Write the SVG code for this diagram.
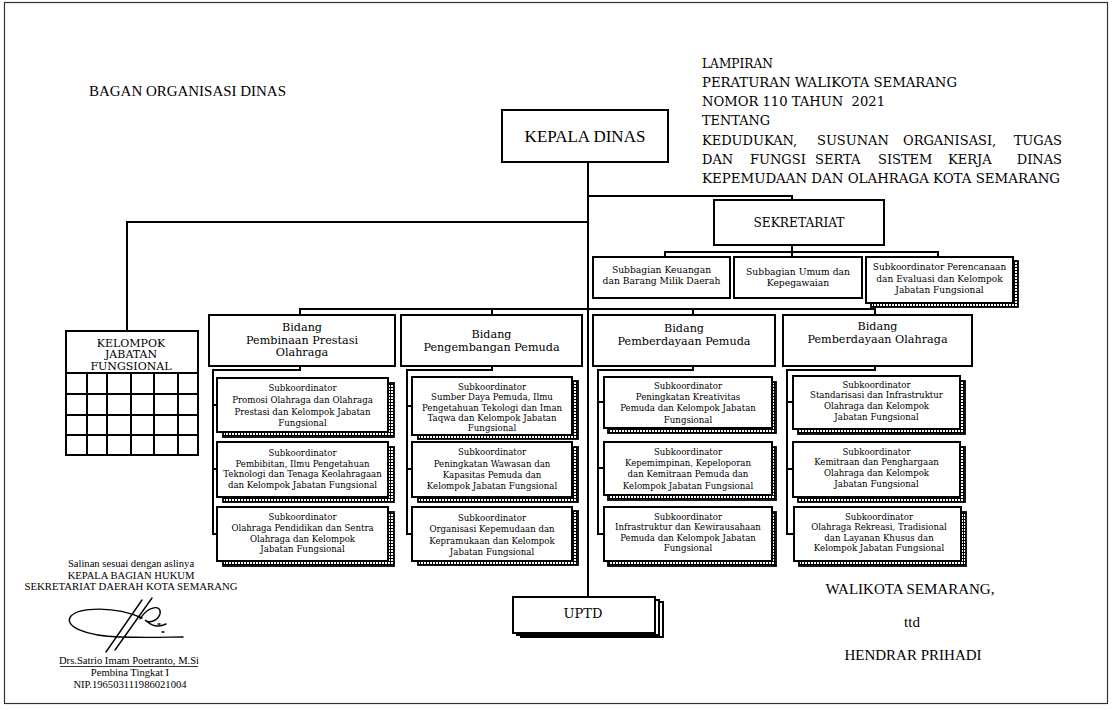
<svg xmlns="http://www.w3.org/2000/svg" width="1112" height="710" viewBox="0 0 1112 710">
<defs>
<pattern id="ladder" patternUnits="userSpaceOnUse" width="3" height="3">
<rect width="3" height="3" fill="#fff"/>
<path d="M0 0.5H3M0.5 0V3" stroke="#000" stroke-width="1"/>
</pattern>
<style>
.box{fill:#fff;stroke:#000;stroke-width:2}
.shd{fill:url(#ladder);stroke:#000;stroke-width:1.8}
.ln{fill:none;stroke:#000;stroke-width:2}
.t{font-family:"DejaVu Serif",serif;fill:#000;text-anchor:middle}
.tm{font-family:"Liberation Serif",serif;fill:#000;text-anchor:middle}
.sub{font-size:8.6px}
.bid{font-size:11.2px}
.sb{font-size:9.2px}
.hd{font-family:"DejaVu Serif",serif;font-size:13px;fill:#000}
.bl{font-size:10.6px}
.br{font-size:15px}
</style>
</defs>
<rect x="4.5" y="2.5" width="1103" height="701" fill="#fff" stroke="#333" stroke-width="1.2"/>

<g id="title">
<text x="89" y="96" font-family="Liberation Serif, serif" font-size="14" textLength="197" lengthAdjust="spacingAndGlyphs">BAGAN ORGANISASI DINAS</text>
</g>
<g id="lampiran">
<text class="hd" x="702" y="68" textLength="71" lengthAdjust="spacingAndGlyphs">LAMPIRAN</text>
<text class="hd" x="702" y="87" textLength="255" lengthAdjust="spacingAndGlyphs">PERATURAN WALIKOTA SEMARANG</text>
<text class="hd" x="702" y="106" textLength="183" lengthAdjust="spacingAndGlyphs" style="white-space:pre">NOMOR 110 TAHUN  2021</text>
<text class="hd" x="702" y="125" textLength="68" lengthAdjust="spacingAndGlyphs">TENTANG</text>
<text class="hd" y="145"><tspan x="702">KEDUDUKAN,</tspan><tspan x="817">SUSUNAN</tspan><tspan x="903">ORGANISASI,</tspan></text>
<text class="hd" x="1062" y="145" text-anchor="end">TUGAS</text>
<text class="hd" y="164"><tspan x="702">DAN</tspan><tspan x="750">FUNGSI</tspan><tspan x="815">SERTA</tspan><tspan x="878">SISTEM</tspan><tspan x="948">KERJA</tspan></text>
<text class="hd" x="1062" y="164" text-anchor="end">DINAS</text>
<text class="hd" x="702" y="183" textLength="358" lengthAdjust="spacingAndGlyphs">KEPEMUDAAN DAN OLAHRAGA KOTA SEMARANG</text>
</g>

<g id="connectors">
<path class="ln" d="M588 162V597"/>
<path class="ln" d="M588 196H792V200"/>
<path class="ln" d="M588 222H127V331"/>
<path class="ln" d="M792 245V257M665 257V252H938V257"/>
<path class="ln" d="M300 315V309H875V315M492 309V315M693 309V315"/>
<path class="ln" d="M300 366V370H213V534H217M213 405H217M213 469H217"/>
<path class="ln" d="M492 366V370H407V534H412M407 406H412M407 469H412"/>
<path class="ln" d="M693 366V370H598V534H604M598 402H604M598 468H604"/>
<path class="ln" d="M875 366V370H787V534H793M787 402H793M787 469H793"/>
</g>

<g id="kepala-dinas">
<rect class="box" x="502" y="110" width="166" height="52"/>
<text class="tm" x="585" y="142" font-size="17">KEPALA DINAS</text>
</g>

<g id="sekretariat">
<rect class="box" x="714" y="200" width="170" height="45"/>
<text class="t" x="799" y="227" font-size="12.2">SEKRETARIAT</text>
</g>

<g id="subbagian-keuangan">
<rect class="box" x="593" y="257" width="137" height="41"/>
<text class="t sb" x="661.5"><tspan x="661.5" y="273">Subbagian Keuangan</tspan><tspan x="661.5" y="284">dan Barang Milik Daerah</tspan></text>
</g>
<g id="subbagian-umum">
<rect class="box" x="734" y="257" width="128" height="41"/>
<text class="t sb"><tspan x="798" y="275">Subbagian Umum dan</tspan><tspan x="798" y="286">Kepegawaian</tspan></text>
</g>
<g id="sub-perencanaan">
<rect class="shd" x="871" y="261" width="147" height="46"/>
<rect class="box" x="866" y="257" width="147" height="46"/>
<text class="t" font-size="9"><tspan x="939.5" y="270">Subkoordinator Perencanaan</tspan><tspan x="939.5" y="281.5">dan Evaluasi dan Kelompok</tspan><tspan x="939.5" y="293">Jabatan Fungsional</tspan></text>
</g>

<g id="kelompok-jf">
<rect class="box" x="66" y="331" width="132" height="124"/>
<path class="ln" d="M66 373H198M66 394H198M66 415H198M66 435H198M87 373V455M107 373V455M131 373V455M154 373V455M178 373V455"/>
<text class="t" font-size="11"><tspan x="131" y="347">KELOMPOK</tspan><tspan x="131" y="358">JABATAN</tspan><tspan x="131" y="370">FUNGSIONAL</tspan></text>
</g>

<g id="bidang-prestasi">
<rect class="box" x="209" y="315" width="186" height="51"/>
<text class="t bid"><tspan x="302" y="331">Bidang</tspan><tspan x="302" y="343.5">Pembinaan Prestasi</tspan><tspan x="302" y="356">Olahraga</tspan></text>
</g>
<g id="bidang-pengembangan">
<rect class="box" x="401" y="315" width="181" height="51"/>
<text class="t bid"><tspan x="491.5" y="338">Bidang</tspan><tspan x="491.5" y="351">Pengembangan Pemuda</tspan></text>
</g>
<g id="bidang-pemberdayaan-pemuda">
<rect class="box" x="593" y="315" width="182" height="51"/>
<text class="t bid"><tspan x="684" y="332">Bidang</tspan><tspan x="684" y="345">Pemberdayaan Pemuda</tspan></text>
</g>
<g id="bidang-pemberdayaan-olahraga">
<rect class="box" x="783" y="315" width="189" height="51"/>
<text class="t bid"><tspan x="877.5" y="330">Bidang</tspan><tspan x="877.5" y="343">Pemberdayaan Olahraga</tspan></text>
</g>

<g id="sub-1-1">
<rect class="shd" x="223" y="383" width="171" height="54"/>
<rect class="box" x="217" y="378" width="171" height="54"/>
<text class="t sub"><tspan x="302.5" y="391">Subkoordinator</tspan><tspan x="302.5" y="403">Promosi Olahraga dan Olahraga</tspan><tspan x="302.5" y="415">Prestasi dan Kelompok Jabatan</tspan><tspan x="302.5" y="426">Fungsional</tspan></text>
</g>
<g id="sub-1-2">
<rect class="shd" x="223" y="447" width="171" height="55"/>
<rect class="box" x="217" y="442" width="171" height="55"/>
<text class="t sub"><tspan x="302.5" y="456">Subkoordinator</tspan><tspan x="302.5" y="466.5">Pembibitan, Ilmu Pengetahuan</tspan><tspan x="302.5" y="477">Teknologi dan Tenaga Keolahragaan</tspan><tspan x="302.5" y="488">dan Kelompok Jabatan Fungsional</tspan></text>
</g>
<g id="sub-1-3">
<rect class="shd" x="223" y="512" width="171" height="54"/>
<rect class="box" x="217" y="507" width="171" height="54"/>
<text class="t sub"><tspan x="302.5" y="520">Subkoordinator</tspan><tspan x="302.5" y="531">Olahraga Pendidikan dan Sentra</tspan><tspan x="302.5" y="542">Olahraga dan Kelompok</tspan><tspan x="302.5" y="552">Jabatan Fungsional</tspan></text>
</g>

<g id="sub-2-1">
<rect class="shd" x="418" y="381" width="160" height="58"/>
<rect class="box" x="412" y="377" width="160" height="58"/>
<text class="t sub"><tspan x="492" y="390">Subkoordinator</tspan><tspan x="492" y="400">Sumber Daya Pemuda, Ilmu</tspan><tspan x="492" y="410.5">Pengetahuan Tekologi dan Iman</tspan><tspan x="492" y="420.5">Taqwa dan Kelompok Jabatan</tspan><tspan x="492" y="430.5">Fungsional</tspan></text>
</g>
<g id="sub-2-2">
<rect class="shd" x="418" y="447" width="160" height="55"/>
<rect class="box" x="412" y="442" width="160" height="55"/>
<text class="t sub"><tspan x="492" y="455">Subkoordinator</tspan><tspan x="492" y="466.5">Peningkatan Wawasan dan</tspan><tspan x="492" y="477.5">Kapasitas Pemuda dan</tspan><tspan x="492" y="489">Kelompok Jabatan Fungsional</tspan></text>
</g>
<g id="sub-2-3">
<rect class="shd" x="418" y="511" width="160" height="54"/>
<rect class="box" x="412" y="507" width="160" height="54"/>
<text class="t sub"><tspan x="492" y="521">Subkoordinator</tspan><tspan x="492" y="532">Organisasi Kepemudaan dan</tspan><tspan x="492" y="543.5">Kepramukaan dan Kelompok</tspan><tspan x="492" y="555">Jabatan Fungsional</tspan></text>
</g>

<g id="sub-3-1">
<rect class="shd" x="608" y="382" width="168" height="51"/>
<rect class="box" x="604" y="377" width="168" height="51"/>
<text class="t sub"><tspan x="688" y="389">Subkoordinator</tspan><tspan x="688" y="400">Peningkatan Kreativitas</tspan><tspan x="688" y="411">Pemuda dan Kelompok Jabatan</tspan><tspan x="688" y="423">Fungsional</tspan></text>
</g>
<g id="sub-3-2">
<rect class="shd" x="608" y="447" width="168" height="53"/>
<rect class="box" x="604" y="442" width="168" height="53"/>
<text class="t sub"><tspan x="688" y="455">Subkoordinator</tspan><tspan x="688" y="466">Kepemimpinan, Kepeloporan</tspan><tspan x="688" y="477">dan Kemitraan Pemuda dan</tspan><tspan x="688" y="489">Kelompok Jabatan Fungsional</tspan></text>
</g>
<g id="sub-3-3">
<rect class="shd" x="608" y="512" width="168" height="54"/>
<rect class="box" x="604" y="507" width="168" height="54"/>
<text class="t sub"><tspan x="688" y="520">Subkoordinator</tspan><tspan x="688" y="530">Infrastruktur dan Kewirausahaan</tspan><tspan x="688" y="541">Pemuda dan Kelompok Jabatan</tspan><tspan x="688" y="551">Fungsional</tspan></text>
</g>

<g id="sub-4-1">
<rect class="shd" x="798" y="381" width="167" height="53"/>
<rect class="box" x="793" y="376" width="167" height="53"/>
<text class="t sub"><tspan x="876.5" y="388">Subkoordinator</tspan><tspan x="876.5" y="398">Standarisasi dan Infrastruktur</tspan><tspan x="876.5" y="409">Olahraga dan Kelompok</tspan><tspan x="876.5" y="420">Jabatan Fungsional</tspan></text>
</g>
<g id="sub-4-2">
<rect class="shd" x="798" y="447" width="167" height="55"/>
<rect class="box" x="793" y="442" width="167" height="55"/>
<text class="t sub"><tspan x="876.5" y="455">Subkoordinator</tspan><tspan x="876.5" y="465">Kemitraan dan Penghargaan</tspan><tspan x="876.5" y="476">Olahraga dan Kelompok</tspan><tspan x="876.5" y="487">Jabatan Fungsional</tspan></text>
</g>
<g id="sub-4-3">
<rect class="shd" x="799" y="512" width="167" height="54"/>
<rect class="box" x="794" y="507" width="167" height="54"/>
<text class="t sub"><tspan x="879" y="520">Subkoordinator</tspan><tspan x="879" y="530">Olahraga Rekreasi, Tradisional</tspan><tspan x="879" y="541">dan Layanan Khusus dan</tspan><tspan x="879" y="551">Kelompok Jabatan Fungsional</tspan></text>
</g>

<g id="uptd">
<rect class="box" x="521" y="602" width="142" height="35"/>
<rect class="box" x="517" y="600" width="142" height="35"/>
<rect class="box" x="513" y="597" width="142" height="36"/>
<text class="t" x="583" y="618" font-size="13">UPTD</text>
</g>

<g id="pengesahan-kiri">
<text class="tm bl" x="131" y="567">Salinan sesuai dengan aslinya</text>
<text class="tm bl" x="131" y="579">KEPALA BAGIAN HUKUM</text>
<text class="tm bl" x="131" y="590" textLength="213" lengthAdjust="spacingAndGlyphs">SEKRETARIAT DAERAH KOTA SEMARANG</text>
<path d="M142 618C115 606 80 607 71 616C63 626 85 636 120 637C150 638 170 637 183 637M106 652L142 600M115 650L152 598M140 619C148 606 162 604 160 614C158 620 150 624 145 620C152 626 158 628 166 624M158 624h2M162 632h2" fill="none" stroke="#000" stroke-width="1.4" stroke-linecap="round"/>
<text class="tm bl" x="129" y="664">Drs.Satrio Imam Poetranto, M.Si</text>
<path d="M60 666.5H198" stroke="#000" stroke-width="0.8"/>
<text class="tm bl" x="130" y="676">Pembina Tingkat I</text>
<text class="tm bl" x="130" y="688">NIP.196503111986021004</text>
</g>

<g id="pengesahan-kanan">
<text class="tm br" x="910" y="594">WALIKOTA SEMARANG,</text>
<text class="tm br" x="912" y="627">ttd</text>
<text class="tm br" x="913" y="660">HENDRAR PRIHADI</text>
</g>
</svg>
